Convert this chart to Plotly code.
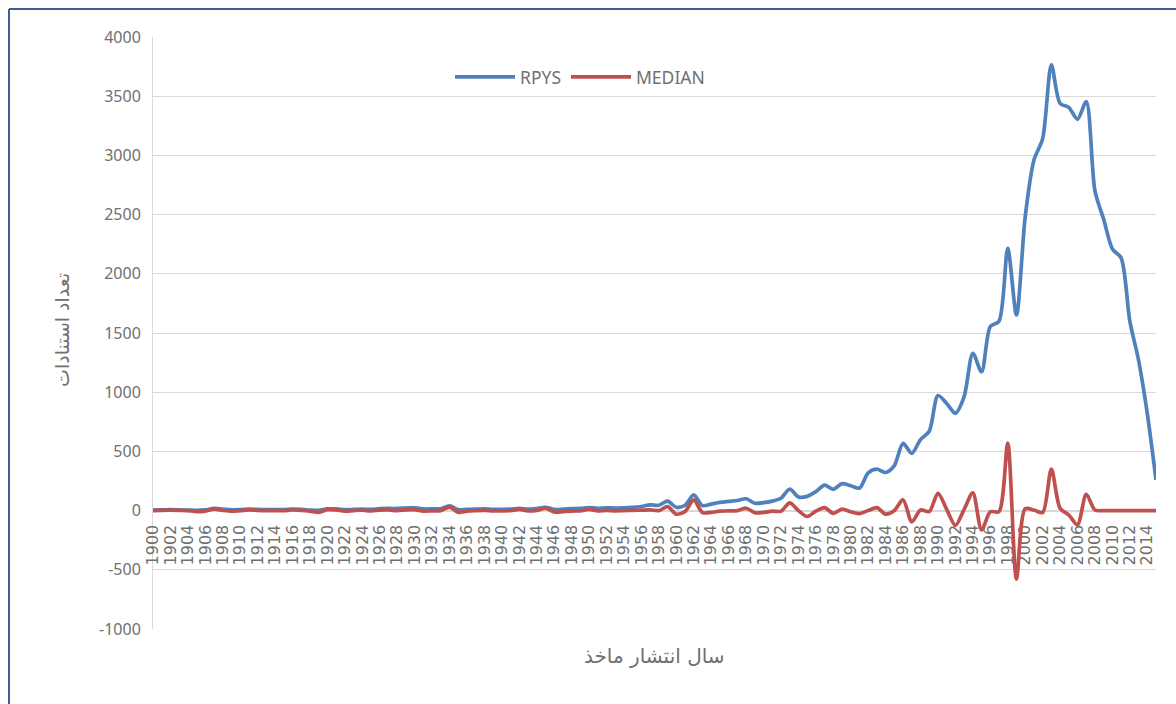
import plotly.graph_objects as go

years = list(range(1900, 2016))

rpys = [5, 6, 8, 6, 4, 2, 6, 18, 12, 6,
        8, 12, 10, 8, 8, 9, 12, 10, 5, 2,
        14, 14, 8, 10, 12, 10, 16, 18, 18, 22,
        24, 14, 14, 16, 40, 8, 10, 12, 14, 10,
        10, 12, 20, 12, 18, 28, 10, 12, 16, 18,
        26, 20, 24, 22, 24, 28, 35, 48, 45, 80,
        28, 45, 132, 42, 55, 70, 78, 85, 100, 62,
        67, 80, 104, 182, 115, 120, 160, 215, 180, 228,
        210, 190, 318, 350, 322, 380, 568, 484, 600, 670,
        972, 905, 822, 962, 1329, 1173, 1555, 1600, 2215, 1652,
        2480, 2960, 3140, 3764, 3440, 3406, 3305, 3454, 2700, 2460,
        2210, 2135, 1600, 1270, 820, 260]

median = [0, 2, 3, 2, 0, -8, -4, 12, 2, -5,
          0, 6, 2, 0, 0, 0, 5, 2, -5, -15,
          8, 6, -4, 0, 3, -2, 4, 5, 0, 6,
          8, -4, -2, 0, 30, -15, -4, 0, 2, -2,
          -2, 0, 10, -2, 2, 20, -12, -8, -4, -2,
          10, -2, 2, -2, 0, 2, 4, 6, 0, 33,
          -30, -8, 90, -17, -15, -5, -3, 0, 20, -18,
          -15, -5, -5, 65, 0, -50, -5, 25, -23, 12,
          -10, -25, 0, 25, -30, 0, 92, -95, 5, -8,
          145, 10, -125, 10, 150, -164, -10, -8, 570, -580,
          15, 5, -17, 350, 20, -37, -120, 137, 5, 0,
          0, 0, 0, 0, 0, 0]

x_tick_years = list(range(1900, 2015, 2))
x_tick_labels = [str(y) for y in x_tick_years]
y_tick_vals = [-1000, -500, 0, 500, 1000, 1500, 2000, 2500, 3000, 3500, 4000]
y_tick_labels = ["-1000", "-500", "0", "500", "1000", "1500", "2000", "2500", "3000", "3500", "4000"]

series_names = ["RPYS", "MEDIAN"]
y_title = "تعداد استنادات"
x_title = "سال انتشار ماخذ"

BLUE = "#4F81BD"
RED = "#C0504D"
GRID = "#D9D9D9"
TXT = "#707070"

fig = go.Figure()
fig.add_trace(go.Scatter(x=years, y=rpys, mode="lines", name=series_names[0],
                         line=dict(color=BLUE, width=3.7, shape="spline", smoothing=0.8)))
fig.add_trace(go.Scatter(x=years, y=median, mode="lines", name=series_names[1],
                         line=dict(color=RED, width=3.7, shape="spline", smoothing=0.8)))

L, R, T, B = 153, 20, 37, 75
W, H = 1176, 704
pw = W - L - R
ph = H - T - B

def px_x(p):
    return (p - L) / pw

def px_y(p):
    return (H - B - p) / ph

fig.update_layout(
    width=W, height=H,
    margin=dict(l=L, r=R, t=T, b=B, autoexpand=False),
    paper_bgcolor="white", plot_bgcolor="white",
    showlegend=True,
    legend=dict(orientation="h", x=px_x(450), y=px_y(59), xanchor="left", yanchor="top",
                font=dict(family="Noto Sans", size=17.5, color=TXT),
                bgcolor="rgba(0,0,0,0)", itemwidth=60, tracegroupgap=0),
    xaxis=dict(range=[1900, 2015], tickmode="array", tickvals=x_tick_years, ticktext=x_tick_labels,
               tickangle=-90, anchor="free", position=0.2, showgrid=False, zeroline=False,
               showline=True, linecolor=GRID, linewidth=1.5, ticks="", ticklabelstandoff=7,
               tickfont=dict(family="DejaVu Sans", size=16, color=TXT), layer="below traces",
               automargin=False, fixedrange=True),
    yaxis=dict(range=[-1000, 4000], tickmode="array", tickvals=y_tick_vals, ticktext=y_tick_labels,
               showgrid=True, gridcolor=GRID, gridwidth=1, zeroline=False,
               showline=True, linecolor=GRID, linewidth=1, ticks="", ticklabelstandoff=8,
               tickfont=dict(family="Noto Sans", size=16, color=TXT), layer="below traces",
               automargin=False, fixedrange=True),
    annotations=[
        dict(text=x_title, xref="paper", yref="paper", x=0.5, y=px_y(656), xanchor="center",
             yanchor="middle", showarrow=False,
             font=dict(family="DejaVu Sans", size=20, color=TXT)),
        dict(text=y_title, xref="paper", yref="paper", x=px_x(62), y=px_y(330), xanchor="center",
             yanchor="middle", showarrow=False, textangle=-90,
             font=dict(family="DejaVu Sans", size=19, color=TXT)),
    ],
    shapes=[
        dict(type="line", xref="paper", yref="paper", x0=px_x(9), x1=px_x(1200), y0=px_y(9), y1=px_y(9),
             line=dict(color="#3D5F93", width=2)),
        dict(type="line", xref="paper", yref="paper", x0=px_x(9), x1=px_x(9), y0=px_y(9), y1=px_y(720),
             line=dict(color="#3D5F93", width=2)),
    ],
)

fig.write_html("out.html", config={"displayModeBar": False},
               post_script="document.body.style.margin='0';document.body.style.padding='0';document.documentElement.style.overflow='hidden';")
